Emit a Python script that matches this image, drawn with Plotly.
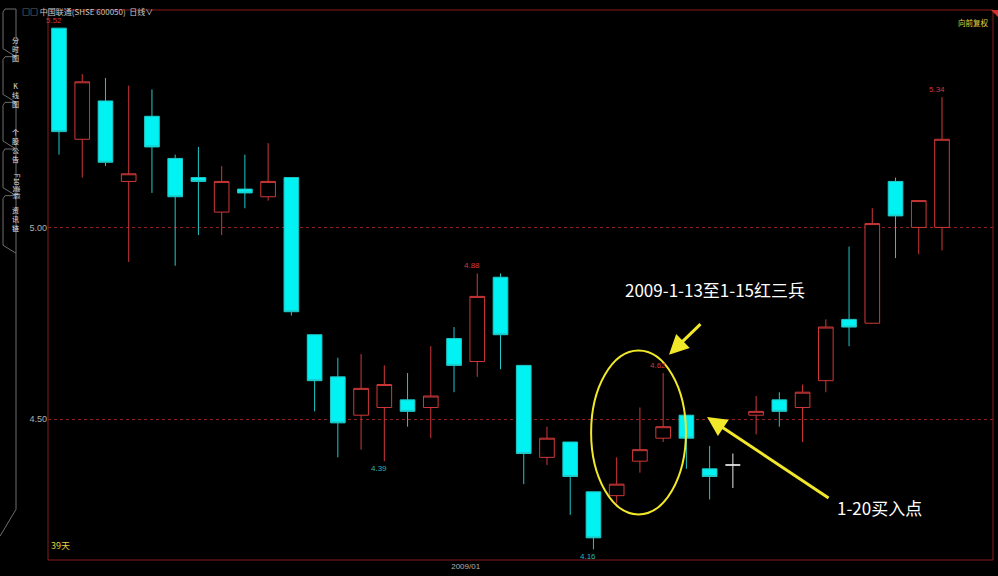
import plotly.graph_objects as go

# ---------------- data ----------------
dates = ["2008-12-08", "2008-12-09", "2008-12-10", "2008-12-11", "2008-12-12",
         "2008-12-15", "2008-12-16", "2008-12-17", "2008-12-18", "2008-12-19",
         "2008-12-22", "2008-12-23", "2008-12-24", "2008-12-25", "2008-12-26",
         "2008-12-29", "2008-12-30", "2008-12-31", "2009-01-05", "2009-01-06",
         "2009-01-07", "2009-01-08", "2009-01-09", "2009-01-12", "2009-01-13",
         "2009-01-14", "2009-01-15", "2009-01-16", "2009-01-19", "2009-01-20",
         "2009-01-21", "2009-01-22", "2009-01-23", "2009-02-02", "2009-02-03",
         "2009-02-04", "2009-02-05", "2009-02-06", "2009-02-09"]
opens = [5.52, 5.23, 5.33, 5.12, 5.29, 5.18, 5.13, 5.04, 5.10, 5.08,
         5.13, 4.72, 4.61, 4.51, 4.53, 4.55, 4.53, 4.71, 4.65, 4.87,
         4.64, 4.40, 4.44, 4.31, 4.30, 4.39, 4.45, 4.51, 4.37, 4.38,
         4.51, 4.55, 4.53, 4.60, 4.76, 4.75, 5.12, 5.00, 5.00]
highs = [5.52, 5.40, 5.39, 5.37, 5.36, 5.19, 5.21, 5.16, 5.19, 5.22,
         5.13, 4.72, 4.66, 4.67, 4.64, 4.62, 4.69, 4.74, 4.88, 4.88,
         4.64, 4.48, 4.44, 4.31, 4.40, 4.53, 4.62, 4.51, 4.43, 4.41,
         4.56, 4.57, 4.59, 4.76, 4.95, 5.05, 5.13, 5.07, 5.34]
lows = [5.19, 5.13, 5.16, 4.91, 5.09, 4.90, 4.98, 4.98, 5.05, 5.07,
        4.77, 4.52, 4.40, 4.42, 4.39, 4.48, 4.45, 4.57, 4.61, 4.63,
        4.33, 4.38, 4.25, 4.16, 4.28, 4.36, 4.44, 4.37, 4.29, 4.32,
        4.46, 4.48, 4.44, 4.57, 4.69, 4.75, 4.92, 4.93, 4.94]
closes = [5.25, 5.38, 5.17, 5.14, 5.21, 5.08, 5.12, 5.12, 5.09, 5.12,
          4.78, 4.60, 4.49, 4.58, 4.59, 4.52, 4.56, 4.64, 4.82, 4.72,
          4.41, 4.45, 4.35, 4.19, 4.33, 4.42, 4.48, 4.45, 4.35, 4.38,
          4.52, 4.52, 4.57, 4.74, 4.74, 5.01, 5.03, 5.07, 5.23]

ytick_vals = [4.50, 5.00]
ytick_text = ["4.50", "5.00"]
month_tick_text = ["2009/01"]

high_marks = [(0, "5.52"), (18, "4.88"), (26, "4.62"), (38, "5.34")]
low_marks = [(14, "4.39"), (23, "4.16")]

title_text = "2009-1-13至1-15红三兵"
buy_text = "1-20买入点"
side_tabs = ["分<br>时<br>图", "K<br>线<br>图", "个<br>股<br>公<br>告", "F10资料", "资<br>讯<br>链"]

# ---------------- figure ----------------
W, H = 998, 576
ML, MR, MT, MB = 48, 5, 10, 12
PW, PH = W - ML - MR, H - MT - MB

def px(xp):
    return (xp - ML) / PW

def py(yp):
    return (H - MB - yp) / PH

xs = list(range(len(dates)))
main_idx = [i for i in xs if opens[i] != closes[i]]
doji_idx = [i for i in xs if opens[i] == closes[i]]

RED = "#d03838"
CYAN_FILL = "#00f2f2"
CYAN_LINE = "#20c8c8"
YEL = "#f2e82a"

fig = go.Figure()
fig.add_trace(go.Candlestick(
    x=[xs[i] for i in main_idx],
    open=[opens[i] for i in main_idx],
    high=[highs[i] for i in main_idx],
    low=[lows[i] for i in main_idx],
    close=[closes[i] for i in main_idx],
    text=[dates[i] for i in main_idx],
    increasing=dict(line=dict(color=RED, width=1), fillcolor="#000000"),
    decreasing=dict(line=dict(color=CYAN_LINE, width=1), fillcolor=CYAN_FILL),
    whiskerwidth=0,
    hoverinfo="skip",
    showlegend=False,
))
fig.add_trace(go.Candlestick(
    x=[xs[i] for i in doji_idx],
    open=[opens[i] for i in doji_idx],
    high=[highs[i] for i in doji_idx],
    low=[lows[i] for i in doji_idx],
    close=[closes[i] for i in doji_idx],
    text=[dates[i] for i in doji_idx],
    increasing=dict(line=dict(color="#e6e6e6", width=1), fillcolor="#e6e6e6"),
    decreasing=dict(line=dict(color="#e6e6e6", width=1), fillcolor="#e6e6e6"),
    whiskerwidth=0,
    hoverinfo="skip",
    showlegend=False,
))

month_pos = dates.index("2009-01-05") - 0.5

step = (942 - 59) / 38.0
x_lo = (ML - 59) / step
x_hi = (W - MR - 59) / step
y_per_px = 0.5 / (422 - 229)
y_hi = 5.00 + (229 - MT) * y_per_px
y_lo = 5.00 - (H - MB - 229) * y_per_px

annotations = []
for i, t in high_marks:
    annotations.append(dict(x=i, y=highs[i], text=t, showarrow=False, xshift=-5, yshift=1,
                            yanchor="bottom", font=dict(family="Liberation Sans", size=8, color=RED)))
for i, t in low_marks:
    annotations.append(dict(x=i, y=lows[i], text=t, showarrow=False, xshift=-5, yshift=-1,
                            yanchor="top", font=dict(family="Liberation Sans", size=8, color="#2fb4b4")))

# text labels
annotations.append(dict(x=28.23, y=4.839, text=title_text, showarrow=False,
                        font=dict(family="Noto Sans CJK SC", size=17, color="#ffffff")))
annotations.append(dict(x=35.29, y=4.269, text=buy_text, showarrow=False,
                        font=dict(family="Noto Sans CJK SC", size=17, color="#ffffff")))
# arrows
annotations.append(dict(x=26.25, y=4.668, ax=33, ay=-32, text="", showarrow=True,
                        arrowhead=2, arrowsize=1.3, arrowwidth=3, arrowcolor=YEL))
annotations.append(dict(x=27.89, y=4.505, ax=123, ay=82, text="", showarrow=True,
                        arrowhead=2, arrowsize=1.3, arrowwidth=3, arrowcolor=YEL))

# header / corner texts
annotations.append(dict(xref="paper", yref="paper", x=px(20), y=py(4), xanchor="left",
                        text="□□ 中国联通(SHSE 600050)  日线∨", showarrow=False,
                        font=dict(family="Noto Sans CJK SC", size=8, color="#c8c8c8")))
annotations.append(dict(xref="paper", yref="paper", x=px(49), y=py(558), xanchor="left",
                        text="39天", showarrow=False,
                        font=dict(family="Noto Sans CJK SC", size=9, color="#e4d040")))
annotations.append(dict(xref="paper", yref="paper", x=px(991), y=py(15), xanchor="right",
                        text="向前复权", showarrow=False,
                        font=dict(family="Noto Sans CJK SC", size=7.5, color="#e4d040")))

# side tabs
tab_ranges = [(9, 57), (57, 103), (103, 150), (150, 197), (197, 255)]
tab_text_y = [33, 79, 126, 173, 221]
shapes = []
for k, (t0, t1) in enumerate(tab_ranges):
    pth = (f"M {px(16)},{py(t0)} L {px(5)},{py(t0)} L {px(3)},{py(t0 + 3)} "
           f"L {px(3)},{py(t1 - 8)} L {px(16)},{py(t1)}")
    if k != 1:
        pth += f" L {px(16)},{py(t0)}"
    shapes.append(dict(type="path", xref="paper", yref="paper", path=pth,
                       line=dict(color="#6e6e6e", width=1)))
    ann = dict(xref="paper", yref="paper", x=px(10), y=py(tab_text_y[k]), text=side_tabs[k],
               showarrow=False, font=dict(family="Noto Sans CJK SC", size=7, color="#e0e0e0"))
    if k == 3:
        ann["textangle"] = 90
    annotations.append(ann)
# long panel edge below tabs
shapes.append(dict(type="path", xref="paper", yref="paper",
                   path=f"M {px(16)},{py(255)} L {px(16)},{py(513)} L {px(0)},{py(540)}",
                   line=dict(color="#6e6e6e", width=1)))

# frame
shapes.append(dict(type="rect", xref="paper", yref="paper", x0=0, y0=0, x1=1, y1=1,
                   line=dict(color="#8a1c1c", width=1)))
# corner red triangle
shapes.append(dict(type="path", xref="paper", yref="paper",
                   path=f"M {px(991)},{py(10)} L {px(998)},{py(10)} L {px(998)},{py(17)} Z",
                   fillcolor="#d03030", line=dict(width=0)))
# highlight ellipse
shapes.append(dict(type="circle", xref="x", yref="y", x0=22.9, x1=26.98, y0=4.251, y1=4.679,
                   line=dict(color=YEL, width=2)))

fig.update_layout(
    width=W, height=H,
    margin=dict(l=ML, r=MR, t=MT, b=MB),
    paper_bgcolor="#000000", plot_bgcolor="#000000",
    boxgap=0.1,
    showlegend=False,
    annotations=annotations,
    shapes=shapes,
    xaxis=dict(range=[x_lo, x_hi], rangeslider=dict(visible=False), showgrid=False,
               zeroline=False, showline=False, tickvals=[month_pos], ticktext=month_tick_text,
               ticks="", tickfont=dict(family="Liberation Sans", size=8, color="#b0b0b0")),
    yaxis=dict(range=[y_lo, y_hi], tickvals=ytick_vals, ticktext=ytick_text, showgrid=True,
               gridcolor="#8e2222", griddash="dot", gridwidth=1, zeroline=False, showline=False,
               ticks="", tickfont=dict(family="Liberation Sans", size=9, color="#b0b0b0")),
    hovermode=False,
)

fig.write_html("out.html", config={"displayModeBar": False},
               post_script="document.body.style.margin='0px';document.body.style.background='#000';")
